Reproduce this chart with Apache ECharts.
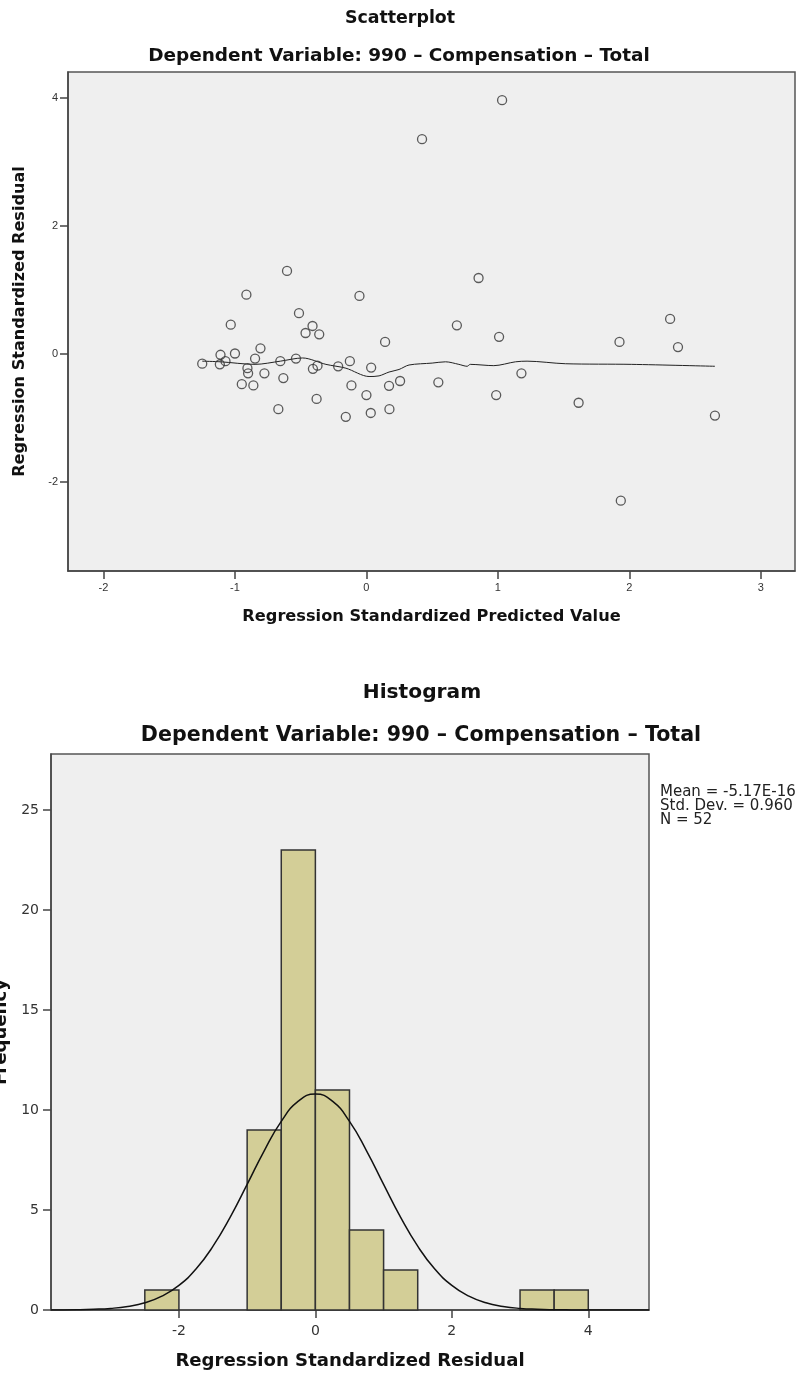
<!DOCTYPE html>
<html>
<head>
<meta charset="utf-8">
<title>Regression residual plots</title>
<script src="https://cdn.jsdelivr.net/npm/echarts@6/dist/echarts.min.js"></script>
<style>
    html, body {margin: 0; padding: 0; background: #fff;}
    #main {width: 796px; height: 1379px;}
</style>
</head>
<body>
<div id="main"></div>
<script>
//------------------------------------------------ scatterplot data
var predicted = [0.423, -0.604, -0.913, -0.053, -0.513, -1.032, -0.41, -0.463, -0.359, 0.142,
    -0.806, -1.0, -1.11, -0.847, -0.536, -1.072, -0.126, -1.249, -1.115, -0.655,
    -0.905, -0.372, -0.215, -0.407, 0.036, -0.9, -0.776, -0.632, -0.948, -0.86,
    -0.114, 0.172, 0.256, 0.547, 0.0, -0.379, -0.67, 0.175, 0.033, -0.157,
    0.688, 1.032, 0.853, 1.009, 1.925, 2.31, 2.37, 1.179, 0.987, 1.614, 2.651, 1.935];
var residuals = [3.36, 1.30, 0.93, 0.91, 0.64, 0.46, 0.44, 0.33, 0.31, 0.19,
    0.09, 0.01, -0.01, -0.07, -0.07, -0.11, -0.11, -0.15, -0.16, -0.11,
    -0.22, -0.18, -0.19, -0.23, -0.21, -0.30, -0.30, -0.375, -0.47, -0.49,
    -0.49, -0.495, -0.42, -0.44, -0.64, -0.70, -0.86, -0.86, -0.92, -0.98,
    0.45, 3.97, 1.19, 0.27, 0.19, 0.55, 0.11, -0.30, -0.64, -0.76, -0.96, -2.29];
// fit line through the points
var fitX = [-1.249, -1.11, -0.847, -0.655, -0.486, -0.308, -0.156, 0.02, 0.096, 0.172,
    0.248, 0.324, 0.5, 0.602, 0.703, 0.766, 0.79, 0.969, 1.134, 1.222, 1.513, 2.018, 2.651];
var fitY = [-0.11, -0.12, -0.16, -0.11, -0.06, -0.16, -0.22, -0.35, -0.34, -0.28,
    -0.24, -0.17, -0.14, -0.12, -0.16, -0.19, -0.16, -0.18, -0.12, -0.11, -0.15, -0.16, -0.19];
var scatterXTicks = [-2, -1, 0, 1, 2, 3];
var scatterYTicks = [-2, 0, 2, 4];

//------------------------------------------------ histogram data
var binStart = [-2.5, -1, -0.5, 0, 0.5, 1, 3, 3.5];
var binWidth = 0.5;
var counts = [1, 9, 23, 11, 4, 2, 1, 1];
// normal curve
var curveX = [-3.875, -3.5, -3.25, -3, -2.75, -2.5, -2.25, -2, -1.75, -1.5, -1.25, -1, -0.75, -0.5, -0.25, 0,
    0.25, 0.5, 0.75, 1, 1.25, 1.5, 1.75, 2, 2.25, 2.5, 2.75, 3, 3.25, 3.5, 3.75, 4, 4.5, 4.89];
var curveY = [0.003, 0.014, 0.035, 0.08, 0.18, 0.36, 0.69, 1.23, 2.05, 3.19, 4.63, 6.28, 7.96, 9.43, 10.44, 10.8,
    10.44, 9.43, 7.96, 6.28, 4.63, 3.19, 2.05, 1.23, 0.69, 0.36, 0.18, 0.08, 0.035, 0.014, 0.005, 0.001, 0, 0];
var histXTicks = [-2, 0, 2, 4];
var histYTicks = [0, 5, 10, 15, 20, 25];
var statsLines = ['Mean = -5.17E-16', 'Std. Dev. = 0.960', 'N = 52'];

var FONT = '"DejaVu Sans", Verdana, sans-serif';
var TICKFONT = '"Liberation Sans", Arial, sans-serif';
var INK = '#333';

function zip(a, b) {
    return a.map(function (v, i) { return [v, b[i]]; });
}

function axisCommon(grid, min, max, ticks, font, fontSize, margin) {
    return {
        type: 'value', gridIndex: grid, min: min, max: max,
        splitLine: {show: false},
        axisLine: {show: true, onZero: false, lineStyle: {color: '#444', width: 1.5}},
        axisTick: {show: true, customValues: ticks, length: 8, lineStyle: {color: '#444', width: 1.5}},
        axisLabel: {customValues: ticks, color: INK, fontSize: fontSize, fontFamily: font, margin: margin},
        nameLocation: 'middle',
        nameTextStyle: {color: '#111', fontWeight: 'bold', fontFamily: FONT}
    };
}

var sx = axisCommon(0, -2.27, 3.26, scatterXTicks, TICKFONT, 11, 11);
sx.name = 'Regression Standardized Predicted Value';
sx.nameGap = 38;
sx.nameTextStyle.fontSize = 16.2;

var sy = axisCommon(0, -3.39, 4.41, scatterYTicks, TICKFONT, 11, 10);
sy.name = 'Regression Standardized Residual';
sy.nameGap = 40;
sy.nameTextStyle.fontSize = 16.1;

var hx = axisCommon(1, -3.875, 4.89, histXTicks, FONT, 14, 14);
hx.name = 'Regression Standardized Residual';
hx.nameGap = 42;
hx.nameTextStyle.fontSize = 18.1;

var hy = axisCommon(1, 0, 27.8, histYTicks, FONT, 14, 12);
hy.name = 'Frequency';
hy.nameGap = 40;
hy.nameTextStyle.fontSize = 18.1;

function titleText(txt, x, y, size) {
    return {
        type: 'text', x: x, y: y,
        style: {text: txt, fill: '#111', font: 'bold ' + size + 'px ' + FONT, textAlign: 'center', textVerticalAlign: 'middle'}
    };
}

var graphics = [
    titleText('Scatterplot', 400, 18, 17.4),
    titleText('Dependent Variable: 990 \u2013 Compensation \u2013 Total', 399, 56, 18.45),
    titleText('Histogram', 422, 693, 20.2),
    titleText('Dependent Variable: 990 \u2013 Compensation \u2013 Total', 421, 736, 20.6)
];
statsLines.forEach(function (line, i) {
    graphics.push({
        type: 'text', x: 660, y: 792 + i * 14,
        style: {text: line, fill: '#222', font: '15px ' + FONT, textVerticalAlign: 'middle'}
    });
});

var chart = echarts.init(document.getElementById('main'));
chart.setOption({
    animation: false,
    backgroundColor: '#fff',
    graphic: graphics,
    grid: [
        {left: 68, top: 72, width: 727, height: 499, outerBoundsMode: 'none', containLabel: false,
            show: true, backgroundColor: '#efefef', borderColor: '#555', borderWidth: 1.5},
        {left: 51, top: 754, width: 598, height: 556, outerBoundsMode: 'none', containLabel: false,
            show: true, backgroundColor: '#efefef', borderColor: '#555', borderWidth: 1.5}
    ],
    xAxis: [sx, hx],
    yAxis: [sy, hy],
    series: [
        {
            type: 'scatter', xAxisIndex: 0, yAxisIndex: 0,
            data: zip(predicted, residuals),
            symbol: 'circle', symbolSize: 9,
            itemStyle: {color: 'rgba(0,0,0,0)', borderColor: '#333', borderWidth: 1.3},
            z: 3
        },
        {
            type: 'line', xAxisIndex: 0, yAxisIndex: 0,
            data: zip(fitX, fitY),
            showSymbol: false, smooth: 0.3,
            lineStyle: {color: '#222', width: 1},
            z: 2
        },
        {
            type: 'custom', xAxisIndex: 1, yAxisIndex: 1,
            data: binStart.map(function (s, i) { return [s, s + binWidth, counts[i]]; }),
            renderItem: function (params, api) {
                var p0 = api.coord([api.value(0), api.value(2)]);
                var p1 = api.coord([api.value(1), 0]);
                return {
                    type: 'rect',
                    shape: {x: p0[0], y: p0[1], width: p1[0] - p0[0], height: p1[1] - p0[1]},
                    style: {fill: '#d3ce97', stroke: '#333', lineWidth: 1.5}
                };
            },
            z: 2
        },
        {
            type: 'line', xAxisIndex: 1, yAxisIndex: 1,
            data: zip(curveX, curveY),
            showSymbol: false, smooth: true,
            lineStyle: {color: '#111', width: 1.5},
            z: 4
        }
    ]
});
</script>
</body>
</html>
